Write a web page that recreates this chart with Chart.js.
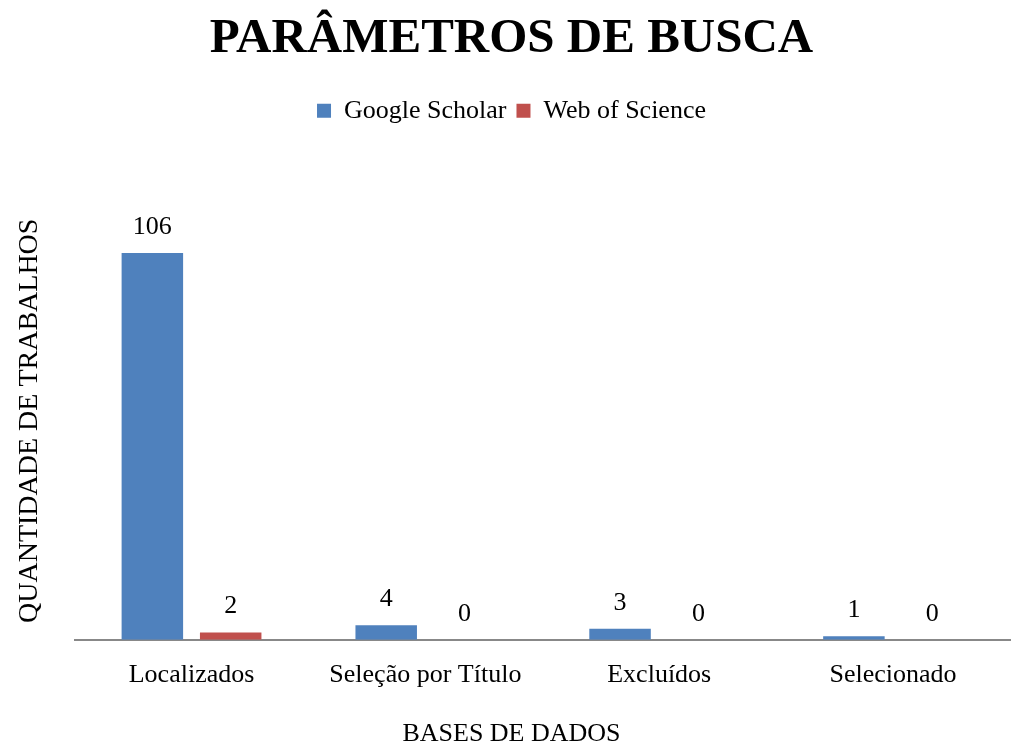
<!DOCTYPE html>
<html>
<head>
<meta charset="utf-8">
<script src="https://cdn.jsdelivr.net/npm/chart.js@4/dist/chart.umd.min.js"></script>
<style>
    body { margin: 0; background: #fff; }
    #wrap { width: 1012px; height: 747px; }
</style>
</head>
<body>
<div id="wrap"><canvas id="buscaChart"></canvas></div>
<script>
// dados do grafico
const categories = ['Localizados', 'Seleção por Título', 'Excluídos', 'Selecionado'];
const googleScholar = [106, 4, 3, 1];
const webOfScience = [2, 0, 0, 0];

const serif = "'Liberation Serif', 'Times New Roman', serif";

// desenha os valores em cima das barras
const valueLabels = {
    id: 'valueLabels',
    afterDatasetsDraw(chart) {
        const ctx = chart.ctx;
        ctx.save();
        ctx.font = '26px ' + serif;
        ctx.fillStyle = '#000';
        ctx.textAlign = 'center';
        ctx.textBaseline = 'middle';
        chart.data.datasets.forEach((ds, i) => {
            chart.getDatasetMeta(i).data.forEach((bar, j) => {
                ctx.fillText(ds.data[j], bar.x, bar.y - 26);
            });
        });
        ctx.restore();
    }
};

// espaco extra entre a legenda e o grafico
const legendSpacing = {
    id: 'legendSpacing',
    beforeInit(chart) {
        const fit = chart.legend.fit;
        chart.legend.fit = function () {
            fit.bind(chart.legend)();
            this.height += 68;
        };
    }
};

new Chart(document.getElementById('buscaChart'), {
    type: 'bar',
    data: {
        labels: categories,
        datasets: [{
            label: 'Google Scholar',
            data: googleScholar,
            backgroundColor: '#4F81BD',
            categoryPercentage: 0.67,
            barPercentage: 0.785
        }, {
            label: 'Web of Science',
            data: webOfScience,
            backgroundColor: '#C0504D',
            categoryPercentage: 0.67,
            barPercentage: 0.785
        }]
    },
    options: {
        responsive: true,
        maintainAspectRatio: false,
        animation: false,
        layout: { padding: { left: 13, right: 2, top: 10, bottom: 0 } },
        plugins: {
            title: {
                display: true,
                text: 'PARÂMETROS DE BUSCA',
                color: '#000',
                font: { family: serif, size: 49, weight: 'bold' },
                padding: { top: 0, bottom: 19 }
            },
            subtitle: {
                display: true,
                position: 'bottom',
                text: 'BASES DE DADOS',
                color: '#000',
                font: { family: serif, size: 26, lineHeight: 1 },
                padding: { top: 18, bottom: 0 }
            },
            legend: {
                position: 'top',
                labels: {
                    color: '#000',
                    font: { family: serif, size: 26 },
                    boxWidth: 14,
                    boxHeight: 14,
                    padding: 10
                }
            },
            tooltip: { enabled: false }
        },
        scales: {
            x: {
                grid: { display: false },
                border: { color: '#888', width: 2 },
                ticks: {
                    color: '#000',
                    font: { family: serif, size: 26 },
                    padding: 12
                }
            },
            y: {
                min: 0,
                max: 120,
                grid: { display: false },
                border: { display: false },
                ticks: { display: false },
                title: {
                    display: true,
                    text: 'QUANTIDADE DE TRABALHOS',
                    color: '#000',
                    font: { family: serif, size: 28 },
                    padding: { top: 0, bottom: 20 }
                }
            }
        }
    },
    plugins: [valueLabels, legendSpacing]
});
</script>
</body>
</html>
